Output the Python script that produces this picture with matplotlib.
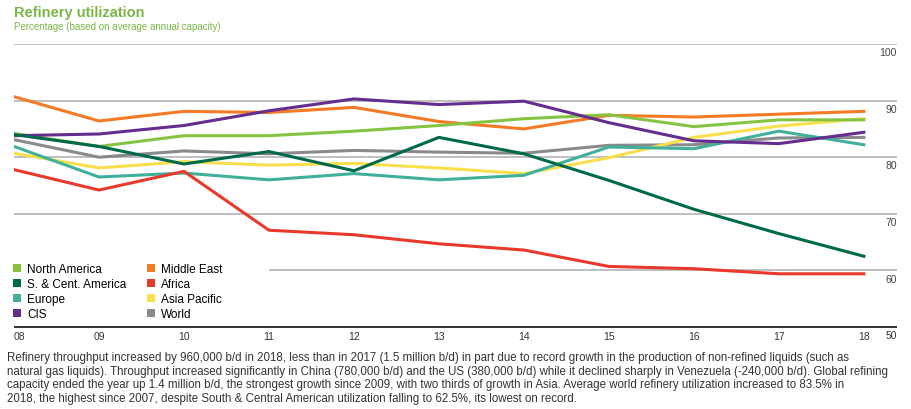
import matplotlib
matplotlib.use("Agg")
from matplotlib import pyplot as plt
from matplotlib.patches import Patch

plt.rcParams['font.family'] = ['Liberation Sans', 'DejaVu Sans']

# Years and regional utilization (%)
years = [2008, 2009, 2010, 2011, 2012, 2013, 2014, 2015, 2016, 2017, 2018]
year_labels = ["08", "09", "10", "11", "12", "13", "14", "15", "16", "17", "18"]

north_america = [84.2, 81.9, 83.8, 83.8, 84.6, 85.6, 86.8, 87.5, 85.4, 86.6, 86.6]
s_cent_america = [84.0, 81.9, 78.8, 81.0, 77.6, 83.5, 80.6, 75.9, 70.8, 66.5, 62.5]
europe = [81.9, 76.5, 77.2, 76.0, 77.1, 76.0, 76.8, 81.8, 81.5, 84.6, 82.2]
cis = [83.8, 84.1, 85.6, 88.2, 90.3, 89.3, 89.9, 86.1, 82.9, 82.4, 84.4]
middle_east = [90.7, 86.4, 88.1, 87.9, 88.8, 86.3, 85.0, 87.4, 87.1, 87.6, 88.1]
africa = [77.8, 74.2, 77.5, 67.1, 66.3, 64.7, 63.6, 60.7, 60.3, 59.4, 59.4]
asia_pacific = [80.7, 78.1, 79.2, 78.6, 78.9, 78.1, 77.1, 79.9, 83.5, 85.5, 86.8]
world = [83.1, 80.0, 81.1, 80.6, 81.2, 80.9, 80.7, 82.1, 82.2, 83.4, 83.5]

y_ticks = [60, 70, 80, 90, 100]

series = [
    ("North America", north_america, "#84c441"),
    ("S. & Cent. America", s_cent_america, "#00694b"),
    ("Europe", europe, "#41b09a"),
    ("CIS", cis, "#652d8e"),
    ("Middle East", middle_east, "#f47a25"),
    ("Africa", africa, "#e8392c"),
    ("Asia Pacific", asia_pacific, "#f8df4c"),
    ("World", world, "#8a8a8c"),
]

fig = plt.figure(figsize=(9.12, 4.10), dpi=100)
ax = fig.add_axes([14 / 912, 1 - 328 / 410, (897 - 14) / 912, (328 - 45) / 410])

x_min, x_max = 2008, 2018.39
ax.set_xlim(x_min, x_max)
ax.set_ylim(50, 100)

# Gridlines (60 line stops short to leave room for the legend)
for v in y_ticks:
    start = 2011 if v == 60 else x_min
    ax.hlines(v, start, x_max, color="#b4b4b4", linewidth=1.2, zorder=1)
ax.hlines(50, x_min, x_max, color="#333333", linewidth=1.4, zorder=1, clip_on=False)

# Order lines so the front-most matches the picture
draw_order = ["World", "Asia Pacific", "Europe", "Africa", "Middle East",
              "North America", "CIS", "S. & Cent. America"]
lookup = {name: (vals, col) for name, vals, col in series}
for name in draw_order:
    vals, col = lookup[name]
    ax.plot(years, vals, color=col, linewidth=2.2, solid_joinstyle="miter", zorder=3)

for s in ax.spines.values():
    s.set_visible(False)
ax.set_yticks([])
ax.set_xticks(years)
ax.set_xticklabels(year_labels, fontsize=7.5, color="#333333")
ax.tick_params(axis="x", length=0, pad=3)
ax.get_xticklabels()[0].set_ha("left")

for v in y_ticks:
    ax.text(x_max, v - 0.55, str(v), ha="right", va="top", fontsize=7.5, color="#444444")
ax.text(x_max, 50 - 0.55, "50", ha="right", va="top", fontsize=7.5, color="#333333")

handles = [Patch(facecolor=col, edgecolor="none", label=name) for name, _, col in series]
fig.legend(handles=handles, ncol=2, loc="upper left", bbox_to_anchor=(0.009, 1 - 259.5 / 410),
           frameon=False, fontsize=8.5, handlelength=0.7, handleheight=0.7,
           handletextpad=0.5, columnspacing=1.75, labelspacing=0.26, borderaxespad=0)

fig.text(14 / 912, 1 - 13 / 410, "Refinery utilization", fontsize=10.5, fontweight="bold",
         color="#7ab648", va="center")
fig.text(14 / 912, 1 - 27 / 410, "Percentage (based on average annual capacity)", fontsize=7,
         color="#7ab648", va="center")

body = ("Refinery throughput increased by 960,000 b/d in 2018, less than in 2017 (1.5 million b/d) in part due to record growth in the production of non-refined liquids (such as\n"
        "natural gas liquids). Throughput increased significantly in China (780,000 b/d) and the US (380,000 b/d) while it declined sharply in Venezuela (-240,000 b/d). Global refining\n"
        "capacity ended the year up 1.4 million b/d, the strongest growth since 2009, with two thirds of growth in Asia. Average world refinery utilization increased to 83.5% in\n"
        "2018, the highest since 2007, despite South & Central American utilization falling to 62.5%, its lowest on record.")
fig.text(7 / 912, 1 - 352.5 / 410, body, fontsize=8.3, color="#333333", va="top",
         linespacing=1.16)

fig.savefig("out.png", dpi=100)
